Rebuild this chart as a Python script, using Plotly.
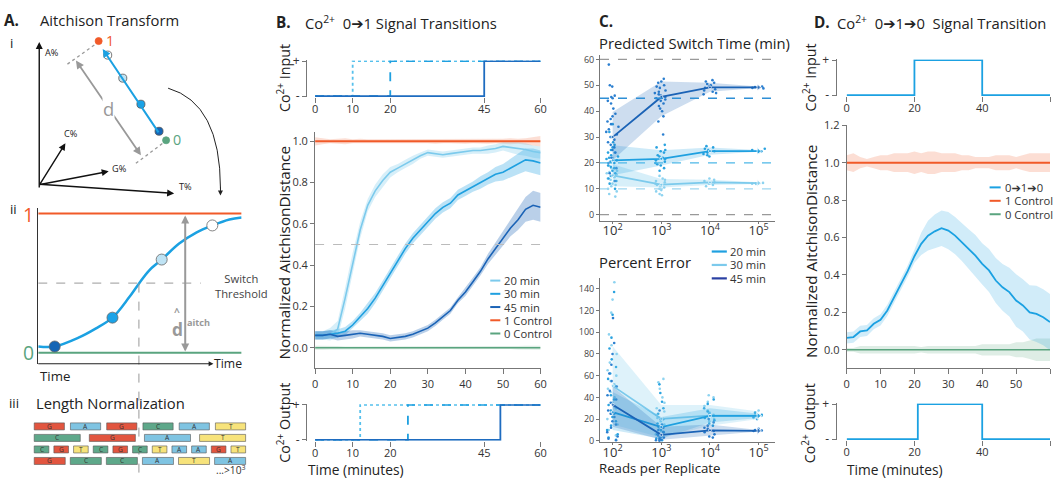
import plotly.graph_objects as go

W, H = 1056, 479
# layout coordinates below are in reference-image pixels; they are mapped onto the page
FW, FH, OFF = 1040.0, 463.0, 8.0
SX, SY = W / FW, H / FH
FONT = "Open Sans, Liberation Sans, DejaVu Sans, sans-serif"

# ======================= DATA =======================
# A-ii schematic switching curve (time fraction, normalized distance)
A_time = [0, 0.081, 0.198, 0.282, 0.365, 0.446, 0.495, 0.545, 0.607, 0.693, 0.777, 0.856, 0.94, 1.0]
A_dist = [0.045, 0.045, 0.108, 0.173, 0.252, 0.396, 0.496, 0.59, 0.669, 0.784, 0.863, 0.914, 0.957, 0.971]
A_dot_idx = [1, 4, 8, 11]
A_threshold = 0.5
# A-iii reads
A_reads = ["GAGCAT", "CGAT", "CGTCGCTAAGT", "GCCATA"]

# B: Co2+ 0->1 transitions
B_time = list(range(0, 61, 2))
B_20 = [0.06, 0.06, 0.065, 0.09, 0.24, 0.41, 0.57, 0.69, 0.76, 0.81,
        0.85, 0.87, 0.89, 0.91, 0.93, 0.945, 0.94, 0.935, 0.94, 0.945,
        0.95, 0.955, 0.955, 0.96, 0.965, 0.975, 0.97, 0.965, 0.96, 0.95, 0.945]
B_30 = [0.06, 0.06, 0.065, 0.07, 0.08, 0.11, 0.15, 0.19, 0.24, 0.30,
        0.36, 0.42, 0.48, 0.53, 0.57, 0.61, 0.65, 0.68, 0.70, 0.74,
        0.76, 0.78, 0.80, 0.82, 0.84, 0.85, 0.87, 0.89, 0.91, 0.905, 0.895]
B_45 = [0.06, 0.06, 0.065, 0.055, 0.06, 0.065, 0.07, 0.065, 0.06, 0.055,
        0.045, 0.05, 0.055, 0.065, 0.08, 0.095, 0.12, 0.15, 0.18, 0.23,
        0.27, 0.32, 0.37, 0.43, 0.48, 0.53, 0.58, 0.62, 0.67, 0.69, 0.68]
B_20_sd = [0.02, 0.02, 0.03, 0.04, 0.05, 0.05, 0.04, 0.03, 0.03, 0.03,
           0.025, 0.02, 0.02, 0.02, 0.015, 0.015, 0.015, 0.015, 0.015, 0.015,
           0.015, 0.015, 0.015, 0.02, 0.02, 0.02, 0.025, 0.03, 0.03, 0.03, 0.03]
B_30_sd = [0.02, 0.02, 0.02, 0.02, 0.02, 0.02, 0.02, 0.025, 0.025, 0.025,
           0.025, 0.025, 0.025, 0.025, 0.025, 0.025, 0.025, 0.025, 0.025, 0.025,
           0.025, 0.025, 0.03, 0.03, 0.035, 0.04, 0.045, 0.05, 0.055, 0.06, 0.06]
B_45_sd = [0.02, 0.02, 0.02, 0.02, 0.02, 0.02, 0.015, 0.015, 0.015, 0.015,
           0.015, 0.015, 0.015, 0.015, 0.015, 0.015, 0.015, 0.015, 0.015, 0.015,
           0.02, 0.02, 0.02, 0.025, 0.03, 0.035, 0.04, 0.05, 0.06, 0.07, 0.07]
B_ctrl1 = [1.0] * 31
B_ctrl0 = [0.0] * 31
B_ctrl1_sd = [0.02, 0.015, 0.01, 0.012, 0.015, 0.01, 0.012, 0.01, 0.01, 0.012,
              0.01, 0.01, 0.012, 0.01, 0.01, 0.01, 0.012, 0.01, 0.01, 0.01,
              0.012, 0.01, 0.01, 0.012, 0.01, 0.012, 0.015, 0.012, 0.015, 0.02, 0.025]
B_ctrl0_sd = [0.01, 0.01, 0.008, 0.008, 0.006, 0.006, 0.006, 0.006, 0.006, 0.006,
              0.006, 0.006, 0.006, 0.006, 0.006, 0.006, 0.006, 0.006, 0.006, 0.006,
              0.006, 0.006, 0.006, 0.006, 0.006, 0.006, 0.006, 0.008, 0.01, 0.01, 0.01]
B_names = ["20 min", "30 min", "45 min"]
B_in_switch = [10, 20, 45]
B_out_switch = [12.0, 24.7, 49.3]
B_io_ticks = [0, 10, 20, 45, 60]
B_threshold = 0.5

# C: read-depth analysis
C_reads = [1e2, 1e3, 1e4, 1e5]
C_log = [2, 3, 4, 5]
C_log_labels = ["10<sup>2</sup>", "10<sup>3</sup>", "10<sup>4</sup>", "10<sup>5</sup>"]
C_true_sw = [10, 20, 45]
# predicted switch time (min): means and band limits
C_sw20 = [15.2, 11.6, 12.5, 12.2]
C_sw20_lo = [11.0, 10.5, 11.5, 11.9]
C_sw20_hi = [19.5, 13.8, 13.5, 12.5]
C_sw30 = [21.0, 21.6, 24.6, 24.6]
C_sw30_lo = [15.2, 19.0, 23.2, 24.3]
C_sw30_hi = [26.8, 24.9, 26.0, 25.0]
C_sw45 = [30.0, 45.5, 49.2, 49.2]
C_sw45_lo = [21.0, 38.0, 47.5, 49.0]
C_sw45_hi = [39.7, 51.5, 51.0, 49.5]
# predicted switch time: individual replicates per read depth
C_sw20_pts = [
    [24, 22, 20, 19, 18, 17, 16.5, 16, 15.5, 15, 14.5, 14, 13.5, 13, 12, 11.5, 11, 10, 9, 8, 7],
    [15, 14, 13.5, 13, 12.5, 12, 11.5, 11, 10.5, 10, 9.5, 9, 8, 7.5],
    [14, 13.5, 13, 12.5, 12, 11.5, 11],
    [12.3, 12.1, 12, 11.9]]
C_sw30_pts = [
    [35, 32, 30, 28, 27, 26, 25, 24, 23, 22.5, 22, 21.5, 21, 20.5, 20, 19, 18.5, 18, 17, 16, 15, 14, 13, 12, 10],
    [27, 26, 25, 24.5, 24, 23, 22.5, 22, 21.5, 21, 20.5, 20, 19.5, 19, 18, 17],
    [26.5, 26, 25.5, 25, 24.5, 24, 23.5, 23, 22.5],
    [25.5, 25, 24.5, 24.2]]
C_sw45_pts = [
    [58, 50, 49.5, 46, 45.5, 45, 44, 43, 41, 39, 38, 37, 36, 35, 34, 33, 32, 31, 30, 29, 28, 27, 26, 25, 24, 22, 20, 18, 16, 13],
    [52.5, 51.5, 51, 50, 49.5, 49, 48, 47.5, 47, 46.5, 46, 45.5, 45, 44.5, 44, 43, 42, 41, 40, 38, 36, 31],
    [52, 51.5, 51, 50.5, 50, 49.5, 49, 48.5, 48, 47.5, 47, 46.5],
    [49.5, 49.3, 49, 48.8]]
# percent error
C_pe20 = [26.4, 12.7, 23.0, 23.0]
C_pe20_lo = [10, 2, 17, 21]
C_pe20_hi = [45, 22, 30, 25]
C_pe30 = [50.6, 20.3, 23.3, 23.3]
C_pe30_lo = [15, 3, 14, 20]
C_pe30_hi = [87, 33, 33, 27]
C_pe45 = [33.3, 5.5, 9.7, 9.1]
C_pe45_lo = [13, 1, 5, 8.5]
C_pe45_hi = [50, 13, 15, 10]
C_pe20_pts = [
    [137, 116, 95, 85, 75, 68, 62, 57, 50, 42, 38, 33, 28, 25, 22, 18, 14, 10, 6, 3, 1],
    [52, 44, 36, 30, 25, 20, 16, 13, 10, 8, 6, 4, 2, 1, 0.5],
    [38, 34, 30, 27, 25, 23, 21, 19, 16, 14],
    [26, 24, 22, 20]]
C_pe30_pts = [
    [146, 130, 118, 98, 88, 80, 72, 65, 60, 55, 52, 48, 45, 40, 35, 30, 25, 20, 15, 10, 5],
    [57, 54, 48, 40, 35, 30, 27, 24, 21, 18, 15, 12, 9, 6, 3, 1],
    [42, 40, 36, 32, 28, 26, 24, 22, 20, 18],
    [28, 25, 23, 21]]
C_pe45_pts = [
    [113, 90, 80, 70, 62, 55, 50, 46, 42, 38, 35, 32, 28, 25, 22, 18, 15, 12, 8, 4, 2, 0.5],
    [28, 20, 15, 12, 10, 8, 6, 5, 4, 3, 2, 1, 0.5, 0.2],
    [20, 17, 14, 12, 11, 10, 9, 8, 6, 4, 3],
    [11, 10, 9.5, 9]]

# D: Co2+ 0->1->0 transition
D_time = list(range(0, 61, 2))
D_sig = [0.064, 0.068, 0.098, 0.103, 0.139, 0.16, 0.21, 0.28, 0.35, 0.42,
         0.50, 0.566, 0.61, 0.633, 0.65, 0.637, 0.61, 0.575, 0.539, 0.503,
         0.459, 0.424, 0.37, 0.334, 0.308, 0.263, 0.237, 0.20, 0.192, 0.174, 0.148]
D_sig_sd = [0.03, 0.03, 0.03, 0.03, 0.03, 0.03, 0.03, 0.03, 0.03, 0.03,
            0.035, 0.06, 0.08, 0.09, 0.095, 0.1, 0.1, 0.1, 0.105, 0.11,
            0.11, 0.115, 0.12, 0.125, 0.13, 0.14, 0.14, 0.145, 0.15, 0.15, 0.15]
D_ctrl1 = [1.0] * 31
D_ctrl0 = [0.0] * 31
D_ctrl1_sd = [0.04, 0.05, 0.03, 0.02, 0.03, 0.04, 0.04, 0.05, 0.05, 0.05,
              0.06, 0.05, 0.06, 0.06, 0.05, 0.05, 0.05, 0.04, 0.04, 0.03,
              0.03, 0.03, 0.04, 0.04, 0.04, 0.03, 0.04, 0.05, 0.05, 0.05, 0.05]
D_ctrl0_sd = [0.01, 0.01, 0.02, 0.02, 0.02, 0.02, 0.02, 0.02, 0.02, 0.02,
              0.02, 0.015, 0.02, 0.02, 0.02, 0.02, 0.02, 0.02, 0.02, 0.02,
              0.03, 0.03, 0.03, 0.03, 0.03, 0.04, 0.04, 0.05, 0.06, 0.06, 0.06]
D_in_t = [0, 20, 40, 60]
D_in_v = [0, 1, 0, 0]
D_out_t = [0, 21, 40, 60]
D_out_v = [0, 1, 0, 0]
D_io_ticks = [0, 20, 40, 60]

# ======================= STYLE =======================
C_LIGHT = "#7ccaec"
C_MED = "#1fa0e0"
C_DARK = "#1b63b6"
C_NAVY = "#2a40a3"
ORANGE = "#f15a29"
GREEN = "#5aa47f"
AXC = "#777777"
TXT = "#222222"
FS = 1.02


def rgba(hexc, a):
    h = hexc.lstrip("#")
    return "rgba(%d,%d,%d,%.2f)" % (int(h[0:2], 16), int(h[2:4], 16), int(h[4:6], 16), a)


def PX(x):
    return (x - OFF) / FW


def PY(y):
    return 1 - (y - OFF) / FH


def xdom(a, b):
    return [max(0.0, PX(a)), min(1.0, PX(b))]


def ydom(top, bottom):
    return [max(0.0, PY(bottom)), min(1.0, PY(top))]


fig = go.Figure()


def ann(x, y, text, size=12, color=TXT, xanchor="left", yanchor="middle", angle=0, bg=None):
    fig.add_annotation(x=PX(x), y=PY(y), xref="paper", yref="paper", text=text,
                       showarrow=False, xanchor=xanchor, yanchor=yanchor, textangle=angle,
                       bgcolor=bg, borderpad=0,
                       font=dict(size=size * FS, color=color, family=FONT))


def arrow(x0, y0, x1, y1, color="#111", width=1.3, head=2, size=1.0, both=False):
    fig.add_annotation(x=PX(x1), y=PY(y1), xref="paper", yref="paper", ax=(x0 - x1) * SX, ay=(y0 - y1) * SY,
                       axref="pixel", ayref="pixel", showarrow=True, arrowhead=head,
                       startarrowhead=head, arrowsize=size, startarrowsize=size,
                       arrowside="end+start" if both else "end",
                       arrowwidth=width, arrowcolor=color, text="")


def pline(x0, y0, x1, y1, color="#999", width=1, dash="solid"):
    fig.add_shape(type="line", xref="paper", yref="paper", x0=PX(x0), y0=PY(y0), x1=PX(x1), y1=PY(y1),
                  line=dict(color=color, width=width, dash=dash))


def pcircle(cx, cy, r, fill, line="#555"):
    fig.add_shape(type="circle", xref="paper", yref="paper", x0=PX(cx - r), x1=PX(cx + r),
                  y0=PY(cy + r), y1=PY(cy - r), fillcolor=fill, line=dict(color=line, width=0.8))


def band(x, lo, hi, color, xa, ya):
    fig.add_trace(go.Scatter(x=list(x) + list(x)[::-1], y=list(hi) + list(lo)[::-1], fill="toself",
                             fillcolor=color, line=dict(width=0), mode="lines", hoverinfo="skip",
                             xaxis=xa, yaxis=ya, showlegend=False))


def line(x, y, color, xa, ya, width=1.6, dash="solid", shape="linear"):
    fig.add_trace(go.Scatter(x=x, y=y, mode="lines", line=dict(color=color, width=width, dash=dash, shape=shape),
                             xaxis=xa, yaxis=ya, showlegend=False, hoverinfo="skip"))


# ======================= PANEL A =======================
ann(8, 20, "<b>A.</b>", 15)
ann(44, 20, "Aitchison Transform", 14.5)
ann(14, 43, "i", 13)
ann(14, 209, "ii", 13)
ann(13, 402, "iii", 13)
ann(40, 402, "Length Normalization", 14.5)

# i : composition space diagram
arrow(44, 184, 44, 42, "#111", 1.4, 2, 1)
arrow(44, 184, 178, 193, "#111", 1.4, 2, 1)
arrow(44, 184, 113, 171, "#111", 1.4, 2, 1)
arrow(44, 184, 70, 143, "#111", 1.4, 2, 1)
ann(49, 52, "A%", 9)
ann(182, 186, "T%", 9)
ann(115, 168, "G%", 9)
ann(68, 133, "C%", 9)
pline(72, 64, 100, 44, "#999", 1.3, "dot")
pline(140, 163, 168, 142, "#999", 1.3, "dot")
arrow(80, 62, 145, 155, "#999", 1.8, 2, 0.9, both=True)
ann(113, 108, "d", 18, "#999", "center", bg="white")
arrow(163, 131, 107, 49, "#1ba1e2", 2, 2, 0.8)
pcircle(103, 41, 3.5, ORANGE, ORANGE)
ann(109, 40, "1", 14, ORANGE)
pcircle(170, 140, 3.5, GREEN, GREEN)
ann(176, 139, "0", 14, GREEN)
pcircle(112, 55, 4, "#ffffff")
pcircle(127, 78, 4, "#bfe3f4")
pcircle(145, 104, 4, "#1aa3e8")
pcircle(163, 131, 4, "#1565b5")
fig.add_shape(type="path", xref="paper", yref="paper",
              path="M %f,%f Q %f,%f %f,%f" % (PX(172), PY(88), PX(224), PY(103), PX(224), PY(188)),
              line=dict(color="#222", width=1))
arrow(224, 186, 224, 195, "#222", 1, 2, 1)

# ii : switching schematic
fig.add_trace(go.Scatter(x=[0, 1], y=[1, 1], mode="lines", line=dict(color=ORANGE, width=2),
                         xaxis="x", yaxis="y", showlegend=False, hoverinfo="skip"))
fig.add_trace(go.Scatter(x=[0, 1], y=[0, 0], mode="lines", line=dict(color=GREEN, width=2),
                         xaxis="x", yaxis="y", showlegend=False, hoverinfo="skip"))
fig.add_shape(type="line", xref="x", yref="y", x0=0, x1=0.8, y0=A_threshold, y1=A_threshold,
              line=dict(color="#999", width=1, dash="dash"))
fig.add_trace(go.Scatter(x=A_time, y=A_dist, mode="lines", line=dict(color="#1ba1e2", width=2.5, shape="spline"),
                         xaxis="x", yaxis="y", showlegend=False, hoverinfo="skip"))
fig.add_trace(go.Scatter(x=[A_time[i] for i in A_dot_idx], y=[A_dist[i] for i in A_dot_idx], mode="markers",
                         marker=dict(size=11, color=["#1565b5", "#1aa3e8", "#bfe3f4", "#ffffff"],
                                     line=dict(color="#666", width=0.8)),
                         xaxis="x", yaxis="y", showlegend=False, hoverinfo="skip"))
pline(143, 283, 143, 479, "#999", 1, "dash")
arrow(43, 363, 217, 363, "#222", 1.2, 2, 0.8)
ann(217, 363, "Time", 12)
ann(44, 375, "Time", 13)
ann(33, 214, "1", 19, ORANGE, "center")
ann(33, 352, "0", 19, GREEN, "center")
ann(245, 285, "Switch<br>Threshold", 11, "#444", "center")
arrow(189, 348, 189, 215, "#999", 2, 2, 0.8, both=True)
ann(181, 328, "<b>d</b>", 17, "#999", "center")
ann(181, 311, "<b>^</b>", 10, "#999", "center")
ann(190, 322, "<b>aitch</b>", 9, "#999")

# iii read blocks
BASE_COL = {"G": "#e2553f", "A": "#7fc4e2", "C": "#5ea88a", "T": "#f7e37b"}
row_y = [425.5, 437, 448.5, 460]
row_gap = [6, 9, 5, 5]
for letters, yc, g in zip(A_reads, row_y, row_gap):
    n = len(letters)
    wdt = (210 - (n - 1) * g) / n
    for k, ch in enumerate(letters):
        x0 = 39 + k * (wdt + g)
        fig.add_shape(type="rect", xref="paper", yref="paper", x0=PX(x0), x1=PX(x0 + wdt),
                      y0=PY(yc + 3.5), y1=PY(yc - 3.5), fillcolor=BASE_COL[ch],
                      line=dict(color="#555", width=0.6))
        ann(x0 + wdt / 2, yc, ch, 6.5, "#333", "center")
ann(250, 469, "...>10<sup>3</sup>", 10, "#333", "right")

# ======================= PANEL B =======================
ann(278, 22, "<b>B.</b>", 15)
ann(307, 22, "Co<sup>2+</sup>  0➔1 Signal Transitions", 14.5)
ann(286, 78, "Co<sup>2+</sup> Input", 14, angle=-90, xanchor="center")
ann(287, 252, "Normalized AitchisonDistance", 15, angle=-90, xanchor="center")
ann(287, 422, "Co<sup>2+</sup> Output", 14, angle=-90, xanchor="center")
ann(310, 469, "Time (minutes)", 13.5)

b_cols = [C_LIGHT, C_MED, C_DARK]
b_dash = ["dot", "dash", "solid"]
b_io_cols = ["#56c0ec", C_MED, "#1e6cc0"]
for ts, d, c in zip(B_in_switch, b_dash, b_io_cols):
    line([0, ts, 60], [0, 1, 1], c, "x2", "y2", 1.8, d, "hv")
for ts, d, c in zip(B_out_switch, b_dash, b_io_cols):
    line([0, ts, 60], [0, 1, 1], c, "x4", "y4", 1.8, d, "hv")

fig.add_shape(type="line", xref="x3", yref="y3", x0=0, x1=60, y0=B_threshold, y1=B_threshold,
              line=dict(color="#bbb", width=1.2, dash="dash"))
band(B_time, [m - s for m, s in zip(B_ctrl1, B_ctrl1_sd)], [m + s for m, s in zip(B_ctrl1, B_ctrl1_sd)],
     rgba(ORANGE, 0.2), "x3", "y3")
band(B_time, [m - s for m, s in zip(B_ctrl0, B_ctrl0_sd)], [m + s for m, s in zip(B_ctrl0, B_ctrl0_sd)],
     rgba(GREEN, 0.2), "x3", "y3")
for vals, sd, c in zip([B_20, B_30, B_45], [B_20_sd, B_30_sd, B_45_sd], b_cols):
    band(B_time, [m - s for m, s in zip(vals, sd)], [m + s for m, s in zip(vals, sd)], rgba(c, 0.3), "x3", "y3")
line(B_time, B_ctrl0, GREEN, "x3", "y3", 1.6)
line(B_time, B_ctrl1, ORANGE, "x3", "y3", 2)
for vals, c in zip([B_20, B_30, B_45], b_cols):
    line(B_time, vals, c, "x3", "y3", 1.6)

# legend B
leg_items = list(zip(B_names + ["1 Control", "0 Control"], b_cols + [ORANGE, GREEN]))
for k, (name, c) in enumerate(leg_items):
    yy = 280 + 13.2 * k
    pline(492, yy, 502, yy, c, 2)
    ann(505, yy, name, 11, "#333")

# ======================= PANEL C =======================
ann(599, 21, "<b>C.</b>", 15)
ann(599, 43, "Predicted Switch Time (min)", 14.5)
ann(599, 261, "Percent Error", 14.5)
ann(599, 467, "Reads per Replicate", 13)

for yv, c in zip([0, 60] + C_true_sw, ["#999", "#999", "#9dd6f0", "#4db8e8", "#2e8fd6"]):
    fig.add_shape(type="line", xref="x5", yref="y5", x0=1.74, x1=5.45, y0=yv, y1=yv,
                  line=dict(color=c, width=1.3, dash="dash"))

end_sym = ["circle", "circle", "circle", "triangle-right"]
end_size = [3, 3, 3, 6]


def c_series(mean, lo, hi, pts, col_line, col_pts, col_band, xa, ya):
    band(C_log, lo, hi, col_band, xa, ya)
    xs, ys = [], []
    for xv, vals in zip(C_log, pts):
        xs += [xv] * len(vals)
        ys += vals
    fig.add_trace(go.Box(x=xs, y=ys, orientation="v", boxpoints="all", jitter=0.9, pointpos=0, width=0.3,
                         fillcolor="rgba(0,0,0,0)", line=dict(width=0, color="rgba(0,0,0,0)"),
                         marker=dict(size=2.6, color=col_pts), xaxis=xa, yaxis=ya,
                         showlegend=False, hoverinfo="skip"))
    fig.add_trace(go.Scatter(x=C_log, y=mean, mode="lines+markers", line=dict(color=col_line, width=1.8),
                             marker=dict(symbol=end_sym, size=end_size, color=col_line),
                             xaxis=xa, yaxis=ya, showlegend=False, hoverinfo="skip"))


c_series(C_sw20, C_sw20_lo, C_sw20_hi, C_sw20_pts, C_LIGHT, "#8dd3f0", rgba(C_LIGHT, 0.3), "x5", "y5")
c_series(C_sw30, C_sw30_lo, C_sw30_hi, C_sw30_pts, C_MED, "#2aa3e0", rgba(C_MED, 0.22), "x5", "y5")
c_series(C_sw45, C_sw45_lo, C_sw45_hi, C_sw45_pts, C_DARK, "#2b7fd0", rgba(C_DARK, 0.22), "x5", "y5")

c_series(C_pe30, C_pe30_lo, C_pe30_hi, C_pe30_pts, C_LIGHT, "#8dd3f0", rgba(C_LIGHT, 0.25), "x6", "y6")
c_series(C_pe20, C_pe20_lo, C_pe20_hi, C_pe20_pts, C_MED, "#2aa3e0", rgba(C_MED, 0.22), "x6", "y6")
c_series(C_pe45, C_pe45_lo, C_pe45_hi, C_pe45_pts, C_DARK, "#2b7fd0", rgba(C_DARK, 0.22), "x6", "y6")

for k, (name, c) in enumerate(zip(B_names, [C_MED, C_LIGHT, C_NAVY])):
    yy = 251 + 13.4 * k
    pline(712, yy, 727, yy, c, 2.2)
    ann(729, yy, name, 11, "#333")

# ======================= PANEL D =======================
ann(813, 22, "<b>D.</b>", 15)
ann(835, 22, "Co<sup>2+</sup>  0➔1➔0  Signal Transition", 14.5)
ann(809, 77, "Co<sup>2+</sup> Input", 14, angle=-90, xanchor="center")
ann(810, 251, "Normalized AitchisonDistance", 15, angle=-90, xanchor="center")
ann(809, 422, "Co<sup>2+</sup> Output", 14, angle=-90, xanchor="center")
ann(845, 469, "Time (minutes)", 13.5)

line(D_in_t, D_in_v, "#1ba1e2", "x7", "y7", 1.8, "solid", "hv")
line(D_out_t, D_out_v, "#1ba1e2", "x9", "y9", 1.8, "solid", "hv")
band(D_time, [m - s for m, s in zip(D_ctrl1, D_ctrl1_sd)], [m + s for m, s in zip(D_ctrl1, D_ctrl1_sd)],
     rgba(ORANGE, 0.2), "x8", "y8")
band(D_time, [m - s for m, s in zip(D_ctrl0, D_ctrl0_sd)], [m + s for m, s in zip(D_ctrl0, D_ctrl0_sd)],
     rgba(GREEN, 0.2), "x8", "y8")
band(D_time, [m - s for m, s in zip(D_sig, D_sig_sd)], [m + s for m, s in zip(D_sig, D_sig_sd)],
     rgba("#1ba1e2", 0.2), "x8", "y8")
line(D_time, D_ctrl0, GREEN, "x8", "y8", 1.6)
line(D_time, D_ctrl1, ORANGE, "x8", "y8", 2)
line(D_time, D_sig, "#1ba1e2", "x8", "y8", 1.8)

for k, (name, c) in enumerate(zip(["0➔1➔0", "1 Control", "0 Control"], ["#1ba1e2", ORANGE, GREEN])):
    yy = 187 + 13.4 * k
    pline(988, yy, 999, yy, c, 2)
    ann(1002, yy, name, 11, "#333")

# ======================= AXES =======================
TF = dict(size=11, color="#333", family=FONT)
base = dict(showgrid=False, zeroline=False, linecolor=AXC, tickcolor=AXC, tickfont=TF, linewidth=1)

io_y = dict(base, anchor="free", range=[-0.02, 1.02], showline=True, tickvals=[0, 1], ticktext=["-", "+"],
            ticks="outside", ticklen=4, tickfont=dict(size=12, color="#333", family=FONT))
io_x = dict(base, range=[0, 60], showline=False, ticks="outside", ticklen=5, ticklabelstandoff=-3)
c_x = dict(base, range=[1.74, 5.34], type="linear", showline=True, ticks="outside", ticklen=2,
           ticklabelstandoff=-4, tickvals=C_log, ticktext=C_log_labels,
           tickfont=dict(size=13, color="#333", family=FONT))

fig.update_layout(
    width=W, height=H, autosize=False, margin=dict(l=0, r=0, t=0, b=0),
    paper_bgcolor="white", plot_bgcolor="white", showlegend=False, boxmode="overlay",
    font=dict(family=FONT, color=TXT),
    xaxis=dict(base, domain=xdom(43, 245), range=[0, 1], anchor="y", visible=False),
    yaxis=dict(base, domain=ydom(208, 363), range=[-0.079, 1.036], anchor="x", showline=True,
               showticklabels=False, ticks="", linecolor="#333"),
    xaxis2=dict(io_x, domain=xdom(318, 542), anchor="y2", tickvals=B_io_ticks),
    yaxis2=dict(io_y, domain=ydom(60.3, 96.7), position=PX(309)),
    xaxis3=dict(base, domain=xdom(318, 542), range=[0, 60], anchor="y3", showline=True, ticks="outside",
                ticklen=5, tickvals=list(range(0, 61, 10))),
    yaxis3=dict(base, domain=ydom(131.7, 367.6), range=[-0.1, 1.045], anchor="x3", showline=True,
                ticks="outside", ticklen=4, tickvals=[0, 0.2, 0.4, 0.6, 0.8, 1.0], tickformat=".1f"),
    xaxis4=dict(io_x, domain=xdom(318, 542), anchor="y4", tickvals=B_io_ticks),
    yaxis4=dict(io_y, domain=ydom(403.3, 439.7), position=PX(309)),
    xaxis5=dict(c_x, domain=xdom(601, 775), anchor="y5"),
    yaxis5=dict(base, domain=ydom(55.2, 220.2), range=[-2.3, 61.6], anchor="x5", showline=True,
                ticks="outside", ticklen=3, tickvals=list(range(0, 61, 10)),
                tickfont=dict(size=9, color="#444", family=FONT)),
    xaxis6=dict(c_x, domain=xdom(601, 775), anchor="y6"),
    yaxis6=dict(base, domain=ydom(277.3, 441.0), range=[-1, 150], anchor="x6", showline=True,
                ticks="outside", ticklen=3, tickvals=list(range(0, 141, 20)),
                tickfont=dict(size=9, color="#444", family=FONT)),
    xaxis7=dict(io_x, domain=xdom(846, 1051), anchor="y7", tickvals=D_io_ticks),
    yaxis7=dict(io_y, domain=ydom(59.3, 95.7), position=PX(835)),
    xaxis8=dict(base, domain=xdom(846, 1051), range=[0, 60], anchor="y8", showline=True,
                ticks="outside", ticklen=5, tickvals=list(range(0, 61, 10))),
    yaxis8=dict(base, domain=ydom(125, 367.7), range=[-0.1, 1.2], anchor="x8", showline=True,
                ticks="outside", ticklen=4, tickvals=[0, 0.2, 0.4, 0.6, 0.8, 1.0, 1.2], tickformat=".1f"),
    xaxis9=dict(io_x, domain=xdom(846, 1051), anchor="y9", tickvals=D_io_ticks),
    yaxis9=dict(io_y, domain=ydom(402.6, 439.0), position=PX(835)),
)

fig.write_html("out.html", config={"displayModeBar": False, "responsive": False},
               post_script="document.body.style.margin='0';")
